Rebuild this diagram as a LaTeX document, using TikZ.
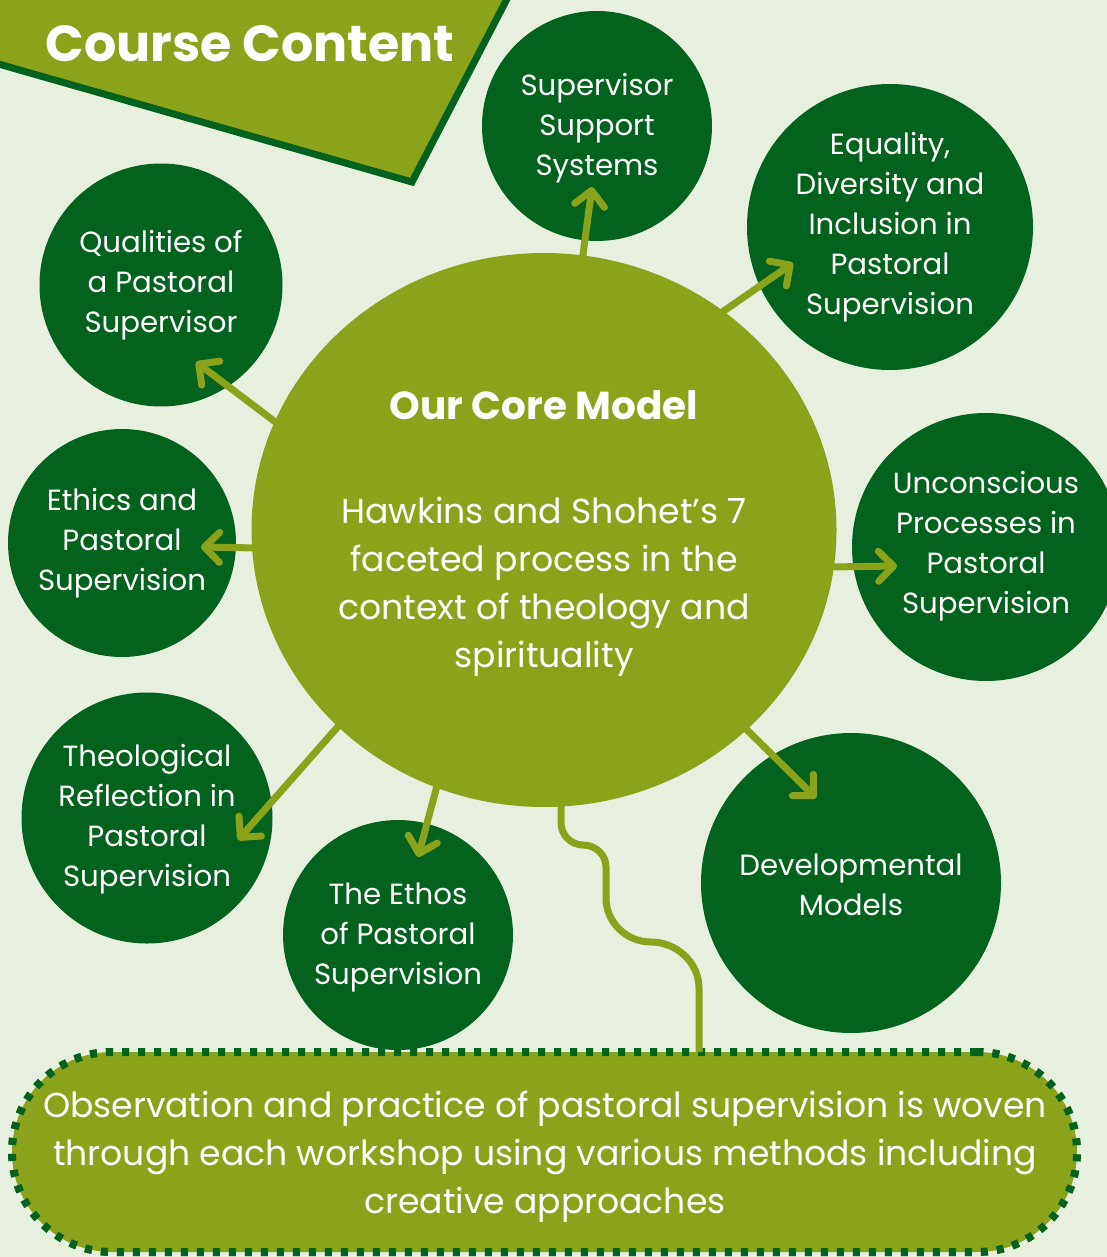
\documentclass[tikz,border=0pt]{standalone}
\usepackage{fontspec}
\setmainfont{Poppins}
\usetikzlibrary{arrows.meta,shapes.geometric}
\definecolor{bg}{HTML}{E7EFDF}
\definecolor{olive}{HTML}{8AA31A}
\definecolor{dkgreen}{HTML}{04621F}
\begin{document}
\begin{tikzpicture}[x=1pt,y=-1pt,
  topic/.style={circle, fill=dkgreen, inner sep=0pt},
  topictext/.style={text=white, align=center, font=\fontsize{29.2}{40}\selectfont},
  arr/.style={draw=olive, line width=7pt, line cap=round,
    -{Straight Barb[length=15pt,width=30pt,round]}},
  wave/.style={draw=olive, line width=7pt},
]
\fill[bg] (0,0) rectangle (1107,1257);
\useasboundingbox (0,0) rectangle (1107,1257);
\clip (0,0) rectangle (1107,1257);

% title banner
\fill[olive] (0,0) -- (506,0) -- (412,182) -- (0,64) -- cycle;
\draw[dkgreen, line width=7pt] (-5,63) -- (412,182) -- (508,-3);
\node[text=white, font=\fontsize{50.7}{60}\selectfont\bfseries] (title) at (250,44) {Course Content};

% topic circles
\node[topic, minimum size=230pt] (sss) at (597,126) {};
\node[topictext] (sssT) at (597,128) {Supervisor\\Support\\Systems};
\node[topic, minimum size=286pt] (edi) at (890,227) {};
\node[topictext] (ediT) at (890,227) {Equality,\\Diversity and\\Inclusion in\\Pastoral\\Supervision};
\node[topic, minimum size=243pt] (qual) at (161,285) {};
\node[topictext] (qualT) at (161,285) {Qualities of\\a Pastoral\\Supervisor};
\node[topic, minimum size=228pt] (eth) at (122,543) {};
\node[topictext] (ethT) at (122,543) {Ethics and\\Pastoral\\Supervision};
\node[topic, minimum size=268pt] (unc) at (986,547) {};
\node[topictext] (uncT) at (986,546) {Unconscious\\Processes in\\Pastoral\\Supervision};
\node[topic, minimum size=251pt] (theo) at (147,818) {};
\node[topictext] (theoT) at (147,819) {Theological\\Reflection in\\Pastoral\\Supervision};
\node[topic, minimum size=230pt] (ethos) at (398,935) {};
\node[topictext] (ethosT) at (398,937) {The Ethos\\of Pastoral\\Supervision};
\node[topic, minimum size=300pt] (dev) at (851,883) {};
\node[topictext] (devT) at (851,885) {Developmental\\Models};

% core
\node[ellipse, fill=olive, minimum width=585pt, minimum height=554pt, inner sep=0pt] (core) at (544,530) {};
\node[text=white, font=\fontsize{39}{48}\selectfont\bfseries] (coretitle) at (544,405) {Our Core Model};
\node[text=white, align=center, font=\fontsize{34.7}{48}\selectfont] (coretext) at (544,587)
  {Hawkins and Shohet’s 7\\faceted process in the\\context of theology and\\spirituality};

% arrow coordinates
\coordinate (s1) at (582,262); \coordinate (t1) at (592,187);
\coordinate (s2) at (718,315); \coordinate (t2) at (793,263);
\coordinate (s3) at (278,424); \coordinate (t3) at (196,362);
\coordinate (s4) at (258,548); \coordinate (t4) at (201,547);
\coordinate (s5) at (830,567); \coordinate (t5) at (897,566);
\coordinate (s6) at (740,723); \coordinate (t6) at (816,798);
\coordinate (s7) at (342,722); \coordinate (t7) at (238,840);
\coordinate (s8) at (438,782); \coordinate (t8) at (418,857);

\draw[arr] (s1) -- (t1);
\draw[arr] (s2) -- (t2);
\draw[arr] (s3) -- (t3);
\draw[arr] (s4) -- (t4);
\draw[arr] (s5) -- (t5);
\draw[arr] (s6) -- (t6);
\draw[arr] (s7) -- (t7);
\draw[arr] (s8) -- (t8);

% bottom pill
\node[fill=olive, rounded corners=100pt, minimum width=1065pt, minimum height=200pt,
  inner sep=0pt, preaction={draw=olive, line width=8pt},
  draw=dkgreen, line width=8pt, dash pattern=on 7pt off 9pt] (pill) at (544.5,1152) {};
\node[text=white, align=center, font=\fontsize{34.6}{48}\selectfont] (pillT) at (545,1157)
  {Observation and practice of pastoral supervision is woven\\through each workshop using various methods including\\creative approaches};

% wavy connector
\coordinate (w0) at (561,800);
\coordinate (w1) at (699,1052);
\draw[wave] (w0) -- (561,823) .. controls (561,835) and (571,845) .. (583,845)
  .. controls (596,845) and (606,855) .. (606,867) -- (606,898)
  .. controls (606,922) and (626,942) .. (651,942)
  .. controls (676,942) and (699,962) .. (699,988) -- (w1);
\end{tikzpicture}
\end{document}
